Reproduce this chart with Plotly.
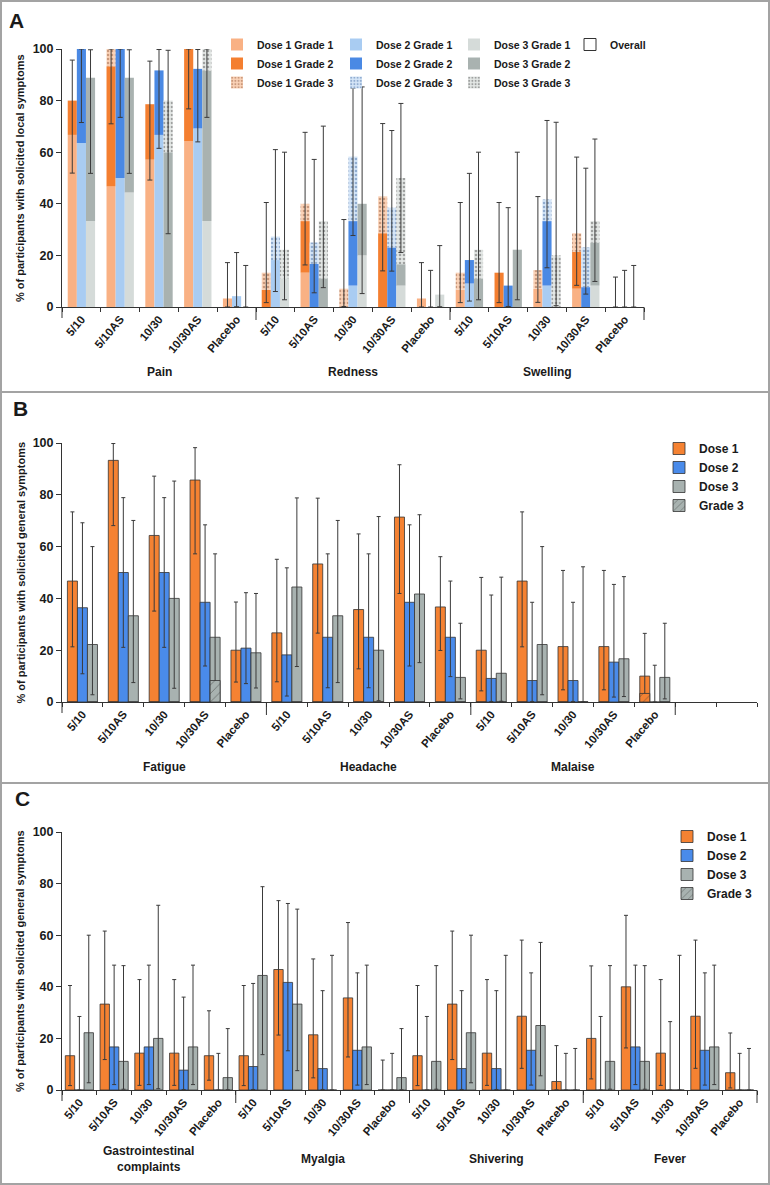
import plotly.graph_objects as go

W, H = 770, 1185

# ---------------- data ----------------
formulations = ['5/10', '5/10AS', '10/30', '10/30AS', 'Placebo']
local_symptoms = ['Pain', 'Redness', 'Swelling']
general_b = ['Fatigue', 'Headache', 'Malaise']
general_c = ['Gastrointestinal<br>complaints', 'Myalgia', 'Shivering', 'Fever']

# Panel A: % per grade, order Pain x5, Redness x5, Swelling x5
d1_g1 = [66.7, 46.7, 57.1, 64.3, 3.3,   0, 13.3, 0, 0, 3.3,        6.7, 0, 7.1, 7.1, 0]
d1_g2 = [13.3, 46.6, 21.5, 35.7, 0,     6.7, 20.0, 0, 28.6, 0,     0, 13.3, 0, 14.3, 0]
d1_g3 = [0, 6.7, 0, 0, 0,               6.6, 6.7, 7.1, 14.3, 0,    6.6, 0, 7.2, 7.2, 0]
d1_lo_a = [51.9, 71.0, 49.2, 76.8, 0,   1.7, 16.3, 0.2, 14.0, 0,   1.7, 1.7, 1.8, 8.4, 0]
d1_hi_a = [95.7, 100, 95.3, 100, 17.2,  40.5, 67.7, 33.9, 71.1, 17.2,  40.5, 40.5, 42.8, 58.1, 11.6]

d2_g1 = [63.6, 50.0, 66.7, 69.2, 4.2,   18.2, 0, 8.3, 0, 0,        9.1, 0, 8.3, 0, 0]
d2_g2 = [36.4, 50.0, 25.0, 23.1, 0,     0, 16.7, 25.0, 23.1, 0,    9.1, 8.3, 25.0, 7.7, 0]
d2_g3 = [0, 0, 0, 0, 0,                 9.1, 8.3, 25.0, 15.4, 0,   0, 0, 8.4, 15.4, 0]
d2_lo_a = [71.5, 73.5, 61.5, 64.0, 0.1, 6.0, 5.5, 27.7, 13.9, 0,   2.3, 0.2, 15.2, 5.0, 0]
d2_hi_a = [100, 100, 99.8, 99.8, 21.1,  61.0, 57.2, 84.8, 68.4, 14.2,  51.8, 38.5, 72.3, 53.8, 14.2]

d3_g1 = [33.3, 44.4, 0, 33.3, 0,        11.1, 0, 20.0, 8.3, 4.8,   0, 0, 0, 8.3, 0]
d3_g2 = [55.6, 44.5, 60.0, 58.4, 0,     0, 11.1, 20.0, 8.3, 0,     11.1, 22.2, 0, 16.7, 0]
d3_g3 = [0, 0, 20.0, 8.3, 0,            11.1, 22.2, 0, 33.4, 0,    11.1, 0, 20.0, 8.3, 0]
d3_lo_a = [51.8, 51.8, 28.4, 73.5, 0,   2.8, 7.5, 5.2, 21.1, 0.1,  2.8, 2.8, 0.5, 9.9, 0]
d3_hi_a = [99.7, 99.7, 99.5, 100, 16.1, 60.0, 70.1, 85.3, 78.9, 23.8,  60.0, 60.0, 71.6, 65.1, 16.1]

# Panel B: Fatigue x5, Headache x5, Malaise x5
d1_b = [46.7, 93.3, 64.3, 85.7, 20.0,   26.7, 53.3, 35.7, 71.4, 36.7,  20.0, 46.7, 21.4, 21.4, 10.0]
d1_lo_b = [21.3, 68.1, 35.1, 57.2, 7.7, 7.8, 26.6, 12.8, 41.9, 19.9,   4.3, 21.3, 4.7, 4.7, 2.1]
d1_hi_b = [73.4, 99.8, 87.2, 98.2, 38.6, 55.1, 78.7, 64.9, 91.6, 56.1, 48.1, 73.4, 50.8, 50.8, 26.5]
d2_b = [36.4, 50.0, 50.0, 38.5, 20.8,   18.2, 25.0, 25.0, 38.5, 25.0,  9.1, 8.3, 8.3, 15.4, 0]
d2_lo_b = [10.9, 21.1, 21.1, 13.9, 7.1, 2.3, 5.5, 5.5, 13.9, 9.8,      0.2, 0.2, 0.2, 1.9, 0]
d2_hi_b = [69.2, 78.9, 78.9, 68.4, 42.2, 51.8, 57.2, 57.2, 68.4, 46.7, 41.3, 38.5, 38.5, 45.4, 14.2]
d3_b = [22.2, 33.3, 40.0, 25.0, 19.0,   44.4, 33.3, 20.0, 41.7, 9.5,   11.1, 22.2, 0, 16.7, 9.5]
d3_lo_b = [2.8, 7.5, 5.3, 5.5, 5.4,     13.7, 7.5, 0.5, 15.2, 1.2,     0.3, 2.8, 0, 2.1, 1.2]
d3_hi_b = [60.0, 70.1, 85.3, 57.2, 41.9, 78.8, 70.1, 71.6, 72.3, 30.4, 48.2, 60.0, 52.2, 48.4, 30.4]
g3_d1_b = [0, 0, 0, 0, 0,  0, 0, 0, 0, 0,  0, 0, 0, 0, 3.3]
g3_d3_b = [0, 0, 0, 8.3, 0,  0, 0, 0, 0, 0,  0, 0, 0, 0, 0]

# Panel C: Gastrointestinal x5, Myalgia x5, Shivering x5, Fever x5
d1_c = [13.3, 33.3, 14.3, 14.3, 13.3,  13.3, 46.7, 21.4, 35.7, 0,
        13.3, 33.3, 14.3, 28.6, 3.3,   20.0, 40.0, 14.3, 28.6, 6.7]
d1_lo_c = [1.7, 11.8, 1.8, 1.8, 3.8,   1.7, 21.3, 4.7, 12.8, 0,
           1.7, 11.8, 1.8, 8.4, 0.1,   4.3, 16.3, 1.8, 8.4, 0.8]
d1_hi_c = [40.5, 61.6, 42.8, 42.8, 30.7,  40.5, 73.4, 50.8, 64.9, 11.6,
           40.5, 61.6, 42.8, 58.1, 17.2,  48.1, 67.7, 42.8, 58.1, 22.1]
d2_c = [0, 16.7, 16.7, 7.7, 0,   9.1, 41.7, 8.3, 15.4, 0,
        0, 8.3, 8.3, 15.4, 0,    0, 16.7, 0, 15.4, 0]
d2_lo_c = [0, 2.1, 2.1, 0.2, 0,  0.2, 15.2, 0.2, 1.9, 0,
           0, 0.2, 0.2, 1.9, 0,  0, 2.1, 0, 1.9, 0]
d2_hi_c = [28.5, 48.4, 48.4, 36.0, 14.2,  41.3, 72.3, 38.5, 45.4, 14.2,
           28.5, 38.5, 38.5, 45.4, 14.2,  28.5, 48.4, 26.5, 45.4, 14.2]
d3_c = [22.2, 11.1, 20.0, 16.7, 4.8,  44.4, 33.3, 0, 16.7, 4.8,
        11.1, 22.2, 0, 25.0, 0,       11.1, 11.1, 0, 16.7, 0]
d3_lo_c = [2.8, 0.3, 0.5, 2.1, 0.1,   13.7, 7.5, 0, 2.1, 0.1,
           0.3, 2.8, 0, 5.5, 0,       0.3, 0.3, 0, 2.1, 0]
d3_hi_c = [60.0, 48.2, 71.6, 48.4, 23.8,  78.8, 70.1, 52.2, 48.4, 23.8,
           48.2, 60.0, 52.2, 57.2, 16.1,  48.2, 48.2, 52.2, 48.4, 16.1]

# ---------------- style ----------------
FONT = 'Liberation Sans, Arial, sans-serif'
INK = '#1a1a1a'
ERR = '#3a3a3a'
ORANGE, BLUE, GRAY = '#F58232', '#4A8BEA', '#A8B2B0'

a_colors = [
    ['#F9B184', '#F47F30', '#FBD3B8'],
    ['#A9CCF2', '#4A89E4', '#D6E6F8'],
    ['#D5DBD9', '#A9B2B0', '#E4E8E6'],
]
a_dots = ['#9A6040', '#4E73A8', '#5A5A5A']


def pxx(x):
    return x / W


def pxy(y):
    return 1 - y / H


fig = go.Figure()

# ---------------- panel A (stacked grades) ----------------
wa = 0.235
offs_a = [-wa, 0, wa]
grades_a = [(d1_g1, d1_g2, d1_g3), (d2_g1, d2_g2, d2_g3), (d3_g1, d3_g2, d3_g3)]
err_a = [(d1_lo_a, d1_hi_a), (d2_lo_a, d2_hi_a), (d3_lo_a, d3_hi_a)]
leg_a = ['legend', 'legend2', 'legend3']

for d in range(3):
    xs = [i + offs_a[d] for i in range(len(d1_g1))]
    base = [0] * len(xs)
    for k, vals in enumerate(grades_a[d]):
        marker = dict(color=a_colors[d][k], line=dict(width=0))
        if k == 2:
            marker['pattern'] = dict(shape='.', fillmode='overlay', fgcolor=a_dots[d],
                                     size=4, solidity=0.35)
        fig.add_bar(x=xs, y=vals, base=base, width=wa, marker=marker,
                    name=f'Dose {d + 1} Grade {k + 1}', legend=leg_a[d],
                    xaxis='x', yaxis='y', hoverinfo='skip')
        base = [b + v for b, v in zip(base, vals)]
    lo, hi = err_a[d]
    fig.add_scatter(x=xs, y=base, mode='markers', marker=dict(size=1, color='rgba(0,0,0,0)'),
                    error_y=dict(type='data', symmetric=False,
                                 array=[h - t for h, t in zip(hi, base)],
                                 arrayminus=[t - l for t, l in zip(base, lo)],
                                 color=ERR, thickness=1, width=2.5),
                    cliponaxis=False, showlegend=False, hoverinfo='skip',
                    xaxis='x', yaxis='y')

fig.add_bar(x=[None], y=[None], name='Overall', legend='legend4',
            marker=dict(color='white', line=dict(color='#333', width=1)),
            xaxis='x', yaxis='y')


# ---------------- panels B and C ----------------
def dose_bars(ax, w, series, legend):
    offs = [-w, 0, w]
    colors = [ORANGE, BLUE, GRAY]
    for d, (vals, lo, hi) in enumerate(series):
        xs = [i + offs[d] for i in range(len(vals))]
        fig.add_bar(x=xs, y=vals, width=w, name=f'Dose {d + 1}', legend=legend,
                    marker=dict(color=colors[d], line=dict(color='#333', width=0.8)),
                    error_y=dict(type='data', symmetric=False,
                                 array=[h - v for h, v in zip(hi, vals)],
                                 arrayminus=[v - l for v, l in zip(vals, lo)],
                                 color=ERR, thickness=1, width=2),
                    xaxis='x' + ax, yaxis='y' + ax, hoverinfo='skip')


hatch = dict(shape='/', fillmode='overlay', fgcolor='#333', size=6, solidity=0.15)

wb = 0.245
dose_bars('2', wb, [(d1_b, d1_lo_b, d1_hi_b), (d2_b, d2_lo_b, d2_hi_b), (d3_b, d3_lo_b, d3_hi_b)],
          'legend5')
fig.add_bar(x=[i + wb for i in range(len(g3_d3_b))], y=g3_d3_b, width=wb, name='Grade 3',
            legend='legend5',
            marker=dict(color=GRAY, line=dict(color='#333', width=0.8), pattern=hatch),
            xaxis='x2', yaxis='y2', hoverinfo='skip')
fig.add_bar(x=[i - wb for i in range(len(g3_d1_b))], y=g3_d1_b, width=wb, showlegend=False,
            marker=dict(color=ORANGE, line=dict(color='#333', width=0.8), pattern=hatch),
            xaxis='x2', yaxis='y2', hoverinfo='skip')

wc = 0.27
dose_bars('3', wc, [(d1_c, d1_lo_c, d1_hi_c), (d2_c, d2_lo_c, d2_hi_c), (d3_c, d3_lo_c, d3_hi_c)],
          'legend6')
fig.add_bar(x=[None], y=[None], name='Grade 3', legend='legend6',
            marker=dict(color=GRAY, line=dict(color='#333', width=0.8), pattern=hatch),
            xaxis='x3', yaxis='y3')


# ---------------- axes ----------------
def x_axis(n, labels, dom, anchor):
    return dict(domain=dom, anchor=anchor, range=[-0.5, n - 0.5],
                tickmode='array', tickvals=list(range(len(labels))), ticktext=labels,
                tickangle=-50, ticks='', tickfont=dict(size=11.5, weight='bold', color=INK),
                showline=True, linecolor='#333', linewidth=1, showgrid=False, zeroline=False,
                minor=dict(tickmode='array', tickvals=[i - 0.5 for i in range(n + 1)],
                           ticks='outside', ticklen=4, tickcolor='#333', tickwidth=1, showgrid=False))


def y_axis(dom, anchor):
    return dict(domain=dom, anchor=anchor, range=[0, 100], tickmode='array',
                tickvals=[0, 20, 40, 60, 80, 100], ticks='outside', ticklen=5, tickcolor='#333',
                tickfont=dict(size=12.5, weight='bold', color=INK),
                showline=True, linecolor='#333', linewidth=1, showgrid=False, zeroline=False)


panels = [
    # axis suffix, top px, bottom px, right px, slots, symptom names, y title, letter, label y
    ('', 49, 307, 644, 15, local_symptoms, '% of participants with solicited local symptoms', 'A', (16, 21), 372),
    ('2', 443, 702, 757, 17, general_b, '% of participants with solicited general symptoms', 'B', (20, 408), 767),
    ('3', 832, 1090, 757, 20, general_c, '% of participants with solicited general symptoms', 'C', (22, 798), 1159),
]

layout = dict(
    width=W, height=H, margin=dict(l=0, r=0, t=0, b=0, autoexpand=False),
    barmode='overlay', paper_bgcolor='white', plot_bgcolor='white',
    font=dict(family=FONT, color=INK), showlegend=True,
)
annotations = []
shapes = []

for ax, top, bot, right, n, syms, ytitle, letter, lpos, lab_y in panels:
    labels = formulations * len(syms)
    xd = [pxx(62), pxx(right)]
    yd = [pxy(bot), pxy(top)]
    layout['xaxis' + ax] = x_axis(n, labels, xd, 'y' + ax)
    layout['yaxis' + ax] = y_axis(yd, 'x' + ax)
    annotations.append(dict(text=ytitle, x=pxx(20), y=(yd[0] + yd[1]) / 2, xref='paper', yref='paper',
                            xanchor='center', yanchor='middle', textangle=-90, showarrow=False,
                            font=dict(size=11, weight='bold')))
    annotations.append(dict(text=letter, x=pxx(lpos[0]), y=pxy(lpos[1]), xref='paper', yref='paper',
                            xanchor='center', yanchor='middle', showarrow=False,
                            font=dict(size=21, weight='bold')))
    for k, s in enumerate(syms):
        annotations.append(dict(text=s, x=5 * k + 2, y=pxy(lab_y), xref='x' + ax, yref='paper',
                                xanchor='center', yanchor='middle', showarrow=False,
                                font=dict(size=12, weight='bold')))
    # longer separators between symptom groups
    seps = [5 * k - 0.5 for k in range(1, len(syms) + 1) if 5 * k - 0.5 < n - 0.5]
    for s in seps:
        shapes.append(dict(type='line', xref='x' + ax, yref='y' + ax + ' domain', x0=s, x1=s,
                           y0=0, y1=-13 / (bot - top), line=dict(color='#333', width=1)))
    shapes.append(dict(type='line', xref='x' + ax + ' domain', yref='y' + ax + ' domain', x0=0, x1=0,
                       y0=0, y1=-11 / (bot - top), line=dict(color='#333', width=1)))
    if 5 * len(syms) == n:
        shapes.append(dict(type='line', xref='x' + ax + ' domain', yref='y' + ax + ' domain', x0=1, x1=1,
                           y0=0, y1=-13 / (bot - top), line=dict(color='#333', width=1)))

# panel frames
for y0, y1 in [(1, 392), (392, 783), (783, 1184)]:
    shapes.append(dict(type='rect', xref='paper', yref='paper', x0=pxx(1), x1=pxx(769),
                       y0=pxy(y1), y1=pxy(y0), line=dict(color='#a3a3a3', width=2)))

leg_common = dict(orientation='v', xanchor='left', yanchor='top', bgcolor='rgba(0,0,0,0)',
                  tracegroupgap=0, itemclick=False)
font_a = dict(size=10.5, weight='bold')
layout['legend'] = dict(x=pxx(217), y=pxy(30), font=font_a, **leg_common)
layout['legend2'] = dict(x=pxx(336), y=pxy(30), font=font_a, **leg_common)
layout['legend3'] = dict(x=pxx(454), y=pxy(30), font=font_a, **leg_common)
layout['legend4'] = dict(x=pxx(570), y=pxy(30), font=font_a, **leg_common)
layout['legend5'] = dict(x=pxx(659), y=pxy(434), font=dict(size=12, weight='bold'), **leg_common)
layout['legend6'] = dict(x=pxx(667), y=pxy(822), font=dict(size=12, weight='bold'), **leg_common)

layout['annotations'] = annotations
layout['shapes'] = shapes
fig.update_layout(**layout)

# drop the browser's default page margin so the figure sits at the window origin
fig.write_html("out.html", config={'displayModeBar': False},
               post_script="document.body.style.margin = '0px';")
